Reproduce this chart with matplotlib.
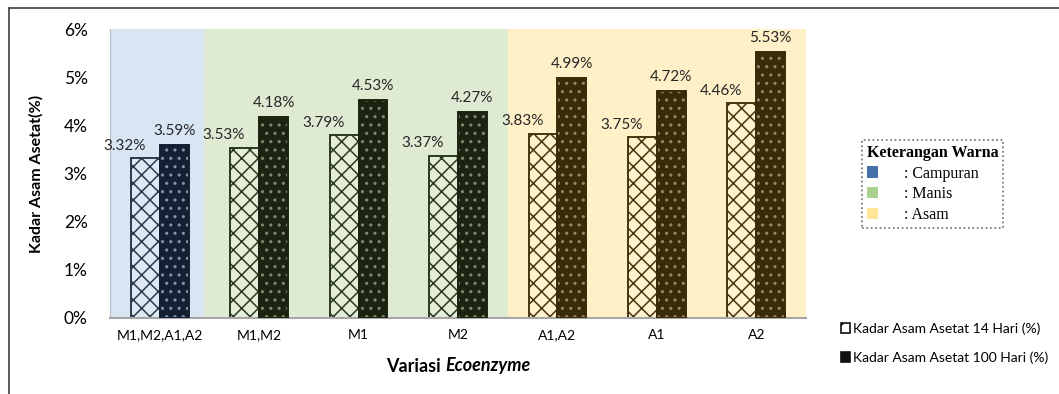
import matplotlib
matplotlib.use("Agg")
import matplotlib.pyplot as plt
import numpy as np
from matplotlib.patches import Patch
from matplotlib.lines import Line2D

# data
categories = ["M1,M2,A1,A2", "M1,M2", "M1", "M2", "A1,A2", "A1", "A2"]
hari_14 = [3.32, 3.53, 3.79, 3.37, 3.83, 3.75, 4.46]
hari_100 = [3.59, 4.18, 4.53, 4.27, 4.99, 4.72, 5.53]
groups = ["campuran", "manis", "manis", "manis", "asam", "asam", "asam"]
legend_labels = ["Kadar Asam Asetat 14 Hari (%)", "Kadar Asam Asetat 100 Hari (%)"]
warna_labels = [": Campuran", ": Manis", ": Asam"]

bg = {"campuran": "#d8e5f2", "manis": "#dfead3", "asam": "#fff0c8"}
light_face = {"campuran": "#dde8f4", "manis": "#e3edd8", "asam": "#fff2cc"}
line_col = {"campuran": "#2c394b", "manis": "#2b3820", "asam": "#45360f"}
dark_face = {"campuran": "#132034", "manis": "#1b2410", "asam": "#3a2a08"}
dot_col = {"campuran": "#8392a0", "manis": "#80886c", "asam": "#938565"}
key_col = ["#4472a8", "#a9d18e", "#ffe699"]

plt.rcParams['font.family'] = ['Lato', 'DejaVu Sans']
plt.rcParams['hatch.linewidth'] = 1.1

fig = plt.figure(figsize=(10.59, 3.94), dpi=100)
ax = fig.add_axes([110 / 1059, 1 - 318 / 394, 696 / 1059, 289 / 394])

# coloured background blocks
ax.axvspan(-0.5, 0.45, color=bg["campuran"], zorder=0, lw=0)
ax.axvspan(0.45, 3.5, color=bg["manis"], zorder=0, lw=0)
ax.axvspan(3.5, 6.5, color=bg["asam"], zorder=0, lw=0)

x = np.arange(len(categories))
w = 0.29
for i, g in enumerate(groups):
    # 14 hari: light bar with brick-like hatch
    ax.bar(x[i] - w / 2, hari_14[i], w, color=light_face[g], edgecolor=line_col[g],
           hatch="xx", linewidth=1.4, zorder=2)
    # 100 hari: dark bar with dots
    ax.bar(x[i] + w / 2, hari_100[i], w, color=dark_face[g], edgecolor=dot_col[g],
           hatch="..", linewidth=0, zorder=2)
    ax.bar(x[i] + w / 2, hari_100[i], w, color="none", edgecolor=dark_face[g],
           linewidth=1.4, zorder=3)
    ax.annotate(f"{hari_14[i]:.2f}%", (x[i] - w / 2, hari_14[i]), xytext=(-15, 4),
                textcoords="offset points", ha="center", va="bottom", fontsize=11,
                color="#262626")
    ax.annotate(f"{hari_100[i]:.2f}%", (x[i] + w / 2, hari_100[i]), xytext=(0, 5),
                textcoords="offset points", ha="center", va="bottom", fontsize=11,
                color="#262626")

ax.set_xlim(-0.5, 6.5)
ax.set_ylim(0, 6)
ax.set_yticks(range(0, 7))
ax.set_yticklabels([f"{v}%" for v in range(0, 7)], fontsize=12.5)
ax.set_xticks(x)
ax.set_xticklabels(categories, fontsize=10)
ax.tick_params(length=0)
ax.tick_params(axis="x", pad=8)
ax.tick_params(axis="y", pad=16)
for s in ["top", "right"]:
    ax.spines[s].set_visible(False)
ax.spines["left"].set_color("#b4bcc4")
ax.spines["bottom"].set_color("#a6a6a6")
ax.spines["bottom"].set_linewidth(1.5)

fig.text(36 / 1059, 1 - 174 / 394, "Kadar Asam Asetat(%)", rotation=90, ha="center",
         va="center", fontsize=11.5, fontweight="bold")

# x label: "Variasi" bold + "Ecoenzyme" bold italic
t1 = fig.text(0, 1 - 366 / 394, "Variasi ", fontsize=13, fontweight="bold", va="center")
t2 = fig.text(0, 1 - 366 / 394, "Ecoenzyme", fontsize=13, fontweight="bold",
              style="italic", va="center")
fig.canvas.draw()
r = fig.canvas.get_renderer()
w1 = t1.get_window_extent(r).width
w2 = t2.get_window_extent(r).width
x0 = 458 - (w1 + w2) / 2
t1.set_x(x0 / 1059)
t2.set_x((x0 + w1) / 1059)

# series legend, bottom right
h14 = Patch(facecolor="white", edgecolor="#111111", hatch="//", linewidth=1.2)
h100 = Patch(facecolor="#111111", edgecolor="#111111", linewidth=1.2)
fig.legend([h14, h100], legend_labels, loc="center left",
           bbox_to_anchor=(828 / 1059, 1 - 343 / 394), frameon=False, fontsize=10,
           handlelength=0.7, handleheight=0.7, handletextpad=0.2, labelspacing=1.2)

# colour key box
kh = [Patch(facecolor=c, edgecolor="none") for c in key_col]
leg = fig.legend(kh, warna_labels, loc="upper left", bbox_to_anchor=(862 / 1059, 1 - 140 / 394),
                 prop={"family": "Liberation Serif", "size": 11.5}, title="Keterangan Warna",
                 title_fontproperties={"family": "Liberation Serif", "size": 11.5, "weight": "bold"},
                 handlelength=0.7, handleheight=0.7, handletextpad=1.6, labelspacing=0.3,
                 borderpad=0.3, borderaxespad=0, fancybox=False, alignment="left")
fr = leg.get_frame()
fr.set_linestyle(":")
fr.set_edgecolor("#444444")
fr.set_linewidth(1.2)

# outer border (left and top)
fig.add_artist(Line2D([9 / 1059, 9 / 1059], [0, 1 - 8 / 394], color="#404040", lw=1.2,
                      transform=fig.transFigure))
fig.add_artist(Line2D([9 / 1059, 1], [1 - 8 / 394, 1 - 8 / 394], color="#404040", lw=1.2,
                      transform=fig.transFigure))

fig.savefig("out.png", dpi=100)
